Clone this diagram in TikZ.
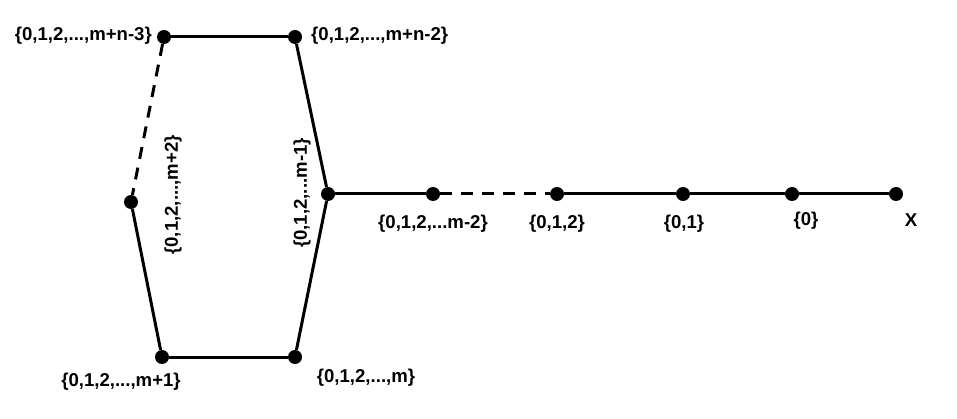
\documentclass[tikz,border=0pt]{standalone}
\usepackage{fontspec}
\setmainfont{Liberation Sans}
\begin{document}
\begin{tikzpicture}[x=1pt,y=-1pt,
  dot/.style={circle,fill=black,inner sep=0pt,minimum size=14pt},
  edge/.style={line width=3pt},
  dash edge/.style={line width=3pt,dash pattern=on 12pt off 9pt},
  lbl/.style={font=\fontsize{18.6}{20}\selectfont\bfseries,inner sep=0pt}]
\useasboundingbox (0,0) rectangle (957,419);
\node[dot] (A) at (164,37) {};
\node[dot] (B) at (295,37) {};
\node[dot] (C) at (131,202) {};
\node[dot] (D) at (328,194) {};
\node[dot] (E) at (162,357) {};
\node[dot] (F) at (295,357) {};
\node[dot] (G) at (433,194) {};
\node[dot] (H) at (557,194) {};
\node[dot] (I) at (683,194) {};
\node[dot] (J) at (792,194) {};
\node[dot] (K) at (896,194) {};
\draw[edge] (A) -- (B);
\draw[edge] (B) -- (D);
\draw[dash edge] (A) -- (C);
\draw[edge] (C) -- (E);
\draw[edge] (E) -- (F);
\draw[edge] (F) -- (D);
\draw[edge] (D) -- (G);
\draw[dash edge] (G) -- (H);
\draw[edge] (H) -- (I);
\draw[edge] (I) -- (J);
\draw[edge] (J) -- (K);
\node[lbl,anchor=east] (lA) at (152,36) {\{0,1,2,...,m+n-3\}};
\node[lbl,anchor=west] (lB) at (311,36) {\{0,1,2,...,m+n-2\}};
\node[lbl,rotate=90] (lC) at (173,195) {\{0,1,2,...,m+2\}};
\node[lbl,rotate=90] (lD) at (302,193) {\{0,1,2,...m-1\}};
\node[lbl] (lE) at (121,382) {\{0,1,2,...,m+1\}};
\node[lbl] (lF) at (366,378) {\{0,1,2,...,m\}};
\node[lbl] (lG) at (433,224) {\{0,1,2,...m-2\}};
\node[lbl] (lH) at (557,224) {\{0,1,2\}};
\node[lbl] (lI) at (684,224) {\{0,1\}};
\node[lbl] (lJ) at (806,221) {\{0\}};
\node[lbl] (lK) at (911,220) {X};
\end{tikzpicture}
\end{document}
